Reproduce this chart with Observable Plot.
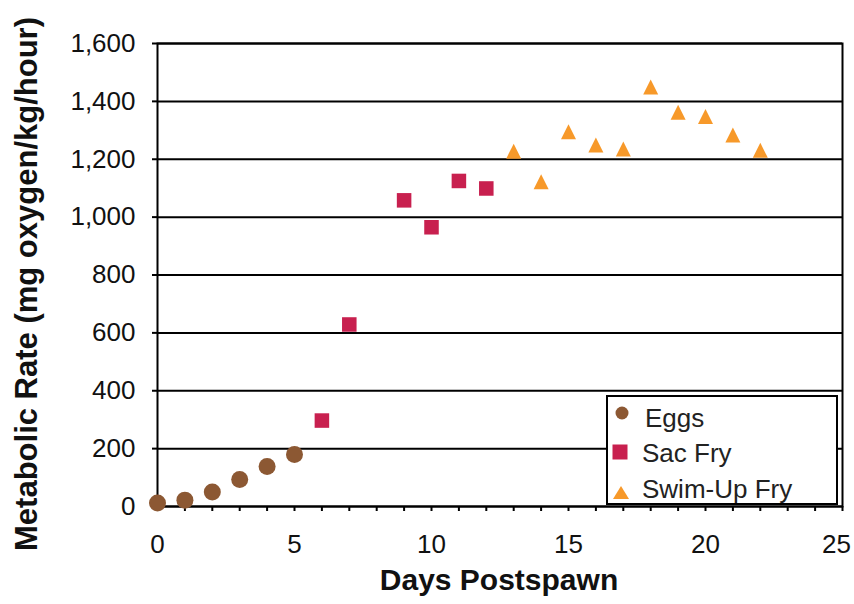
<!DOCTYPE html>
<html>
<head>
<meta charset="utf-8">
<script src="https://cdn.jsdelivr.net/npm/d3@7"></script>
<script src="https://cdn.jsdelivr.net/npm/@observablehq/plot@0.6"></script>
<style>
  html, body { margin: 0; padding: 0; background: #fff; }
  #wrap { position: relative; width: 854px; height: 604px; font-family: "Liberation Sans", Arial, sans-serif; }
  #legend { position: absolute; left: 606px; top: 395px; width: 228px; height: 106px; border: 2px solid #000; background: #fff; overflow: hidden; }
  #legend .item { position: absolute; font-family: "Liberation Sans", Arial, sans-serif; font-size: 26px; color: #222; line-height: 1; white-space: nowrap; }
  #legend svg { position: absolute; }
</style>
</head>
<body>
<div id="wrap"></div>
<script>
// ---- data ----
const seriesNames = ["Eggs", "Sac Fry", "Swim-Up Fry"];
const eggsDays = [0, 1, 2, 3, 4, 5];
const eggsRate = [12, 22, 50, 93, 138, 180];
const sacDays = [6, 7, 9, 10, 11, 12];
const sacRate = [297, 629, 1058, 965, 1125, 1099];
const swimDays = [13, 14, 15, 16, 17, 18, 19, 20, 21, 22];
const swimRate = [1228, 1122, 1295, 1249, 1235, 1450, 1362, 1348, 1284, 1231];
const xTicks = [0, 5, 10, 15, 20, 25];
const yTicks = [0, 200, 400, 600, 800, 1000, 1200, 1400, 1600];
const xTitle = "Days Postspawn";
const yTitle = "Metabolic Rate (mg oxygen/kg/hour)";

const colors = {"Eggs": "#8c5833", "Sac Fry": "#c8204f", "Swim-Up Fry": "#f7992a"};

const eggs = eggsDays.map((d, i) => ({day: d, rate: eggsRate[i]}));
const sac = sacDays.map((d, i) => ({day: d, rate: sacRate[i]}));
const swim = swimDays.map((d, i) => ({day: d, rate: swimRate[i]}));

// bbox-centred triangle (Excel style)
const tri = {
  draw(ctx, size) {
    const r = Math.sqrt(size / Math.PI);
    ctx.moveTo(0, -r);
    ctx.lineTo(r, r);
    ctx.lineTo(-r, r);
    ctx.closePath();
  }
};

const minorX = d3.range(0, 26);
const lastX = xTicks[xTicks.length - 1];

const chart = Plot.plot({
  width: 854,
  height: 604,
  marginLeft: 157,
  marginRight: 12,
  marginTop: 43,
  marginBottom: 98,
  style: {fontFamily: "Liberation Sans, Arial, sans-serif", background: "#fff", color: "#111"},
  x: {domain: [0, 25]},
  y: {domain: [0, 1600]},
  marks: [
    Plot.ruleY(yTicks, {stroke: "#000", strokeWidth: 2}),
    Plot.frame({stroke: "#000", strokeWidth: 2}),
    Plot.axisY({ticks: yTicks, tickFormat: d3.format(","), tickSize: 5, tickPadding: 17, strokeWidth: 2, fontSize: 26, label: null, stroke: "#000"}),
    Plot.axisX({ticks: minorX, tickFormat: () => "", tickSize: 5, strokeWidth: 2, label: null, stroke: "#000"}),
    Plot.axisX({ticks: xTicks.filter(d => d !== lastX), tickSize: 0, tickPadding: 28, fontSize: 26, label: null}),
    Plot.axisX({ticks: [lastX], tickSize: 0, tickPadding: 28, fontSize: 26, label: null, dx: -6}),
    Plot.dot(eggs, {x: "day", y: "rate", r: 8.5, fill: colors["Eggs"], symbol: "circle"}),
    Plot.dot(sac, {x: "day", y: "rate", r: 8.2, fill: colors["Sac Fry"], symbol: "square"}),
    Plot.dot(swim, {x: "day", y: "rate", r: 7.5, fill: colors["Swim-Up Fry"], symbol: tri}),
    Plot.text([xTitle], {frameAnchor: "bottom", dy: 74, dx: -1, lineAnchor: "middle", textAnchor: "middle", fontSize: 30, fontWeight: "bold", fill: "#111"}),
    Plot.text([yTitle], {frameAnchor: "left", rotate: -90, dx: -130, dy: 9, lineAnchor: "middle", textAnchor: "middle", fontSize: 31, fontWeight: "bold", fill: "#111"})
  ]
});

const wrap = document.getElementById("wrap");
wrap.appendChild(chart);

// legend
const legend = document.createElement("div");
legend.id = "legend";
const items = [
  {name: seriesNames[0], shape: `<circle cx="8" cy="8" r="6.5" fill="${colors["Eggs"]}"/>`, sx: 6, sy: 8, tx: 37, ty: 8},
  {name: seriesNames[1], shape: `<rect x="0.5" y="0.5" width="15" height="15" fill="${colors["Sac Fry"]}"/>`, sx: 4, sy: 47, tx: 34, ty: 43},
  {name: seriesNames[2], shape: `<path d="M8,3 L16,16 L0,16 Z" fill="${colors["Swim-Up Fry"]}"/>`, sx: 5, sy: 86, tx: 34, ty: 79}
];
for (const it of items) {
  const s = document.createElement("div");
  s.innerHTML = `<svg width="16" height="16" style="left:${it.sx}px;top:${it.sy}px">${it.shape}</svg>`;
  legend.appendChild(s.firstChild);
  const t = document.createElement("div");
  t.className = "item";
  t.style.left = it.tx + "px";
  t.style.top = it.ty + "px";
  t.textContent = it.name;
  legend.appendChild(t);
}
wrap.appendChild(legend);
</script>
</body>
</html>
